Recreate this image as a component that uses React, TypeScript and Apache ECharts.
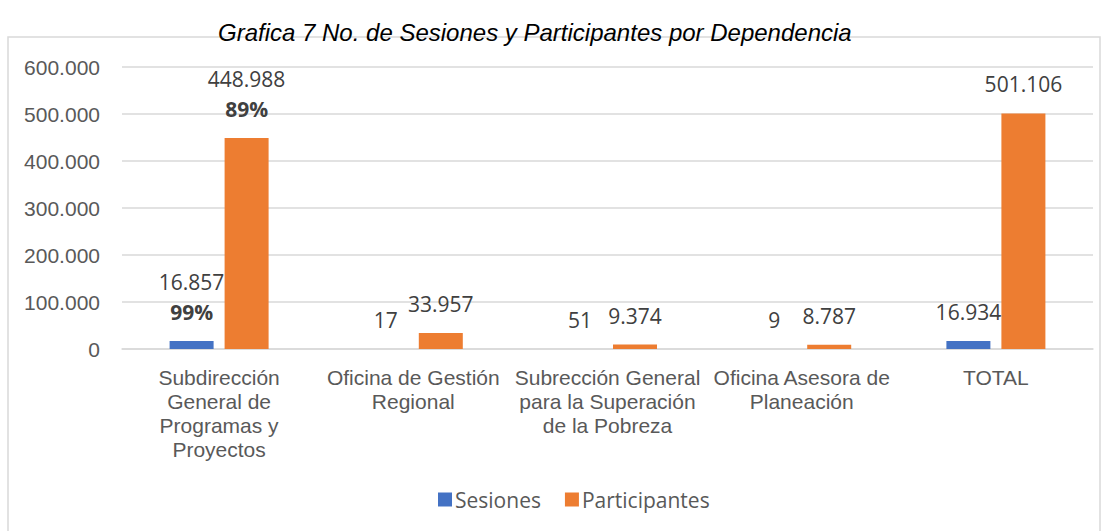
import React, { useEffect, useRef } from "react";
import * as echarts from "echarts";

const categories = [
  "Subdirección\nGeneral de\nProgramas y\nProyectos",
  "Oficina de Gestión\nRegional",
  "Subrección General\npara la Superación\nde la Pobreza",
  "Oficina Asesora de\nPlaneación",
  "TOTAL",
];
const sesiones = [16857, 17, 51, 9, 16934];
const participantes = [448988, 33957, 9374, 8787, 501106];
const sesionesPct = ["99%", "", "", "", ""];
const participantesPct = ["89%", "", "", "", ""];
const titleText = "Grafica 7 No. de Sesiones y Participantes por Dependencia";

const fmt = (v: number) => v.toLocaleString("de-DE");

export default function App() {
  const ref = useRef<HTMLDivElement>(null);
  useEffect(() => {
    if (!ref.current) return;
    const chart = echarts.init(ref.current, null, { renderer: "svg" });
    const labelFor = (pcts: string[]) => ({
      show: true,
      position: "top",
      distance: 14,
      formatter: (p: any) => {
        const pct = pcts[p.dataIndex];
        return pct ? `{v|${fmt(p.value)}}\n{p|${pct}}` : `{v|${fmt(p.value)}}`;
      },
      rich: {
        v: { fontFamily: "Open Sans", fontSize: 21, color: "#404040", lineHeight: 30 },
        p: { fontFamily: "Open Sans", fontSize: 21, fontWeight: "bold", color: "#404040", lineHeight: 30 },
      },
    });
    chart.setOption({
      animation: false,
      title: {
        text: titleText,
        left: 213,
        top: 15,
        textStyle: {
          fontFamily: "Liberation Sans",
          fontStyle: "italic",
          fontWeight: "normal",
          fontSize: 24,
          color: "#000000",
        },
      },
      graphic: [
        {
          type: "rect",
          shape: { x: 8, y: 37, width: 1092, height: 520 },
          style: { fill: "none", stroke: "#d9d9d9", lineWidth: 1.5 },
          z: -1,
        },
      ],
      legend: {
        data: ["Sesiones", "Participantes"],
        left: 433,
        top: 484,
        itemWidth: 14,
        itemHeight: 14,
        itemGap: 24,
        icon: "rect",
        textStyle: { fontFamily: "Open Sans", fontSize: 21, color: "#595959", padding: [0, 0, 0, -2] },
      },
      grid: { left: 122, right: 16, top: 67, bottom: 182, containLabel: false },
      xAxis: {
        type: "category",
        data: categories,
        axisLine: { lineStyle: { color: "#d9d9d9", width: 1.5 } },
        axisTick: { show: false },
        axisLabel: {
          interval: 0,
          fontFamily: "Liberation Sans",
          fontSize: 21,
          lineHeight: 24,
          color: "#595959",
          margin: 16,
        },
      },
      yAxis: {
        type: "value",
        min: 0,
        max: 600000,
        interval: 100000,
        axisLine: { show: false },
        axisTick: { show: false },
        splitLine: { lineStyle: { color: "#d9d9d9", width: 1.5 } },
        axisLabel: {
          formatter: (v: number) => fmt(v),
          fontFamily: "Liberation Sans",
          fontSize: 21,
          color: "#595959",
          margin: 22,
        },
      },
      series: [
        {
          name: "Sesiones",
          type: "bar",
          data: sesiones,
          barWidth: 44,
          barGap: "25%",
          itemStyle: { color: "#4472C4" },
          label: labelFor(sesionesPct),
        },
        {
          name: "Participantes",
          type: "bar",
          data: participantes,
          barWidth: 44,
          itemStyle: { color: "#ED7D31" },
          label: labelFor(participantesPct),
        },
      ],
    });
    return () => chart.dispose();
  }, []);
  return (
    <div style={{ position: "fixed", left: 0, top: 0, width: 1109, height: 531, background: "#fff" }}>
      <div ref={ref} style={{ width: 1109, height: 531 }} />
    </div>
  );
}
